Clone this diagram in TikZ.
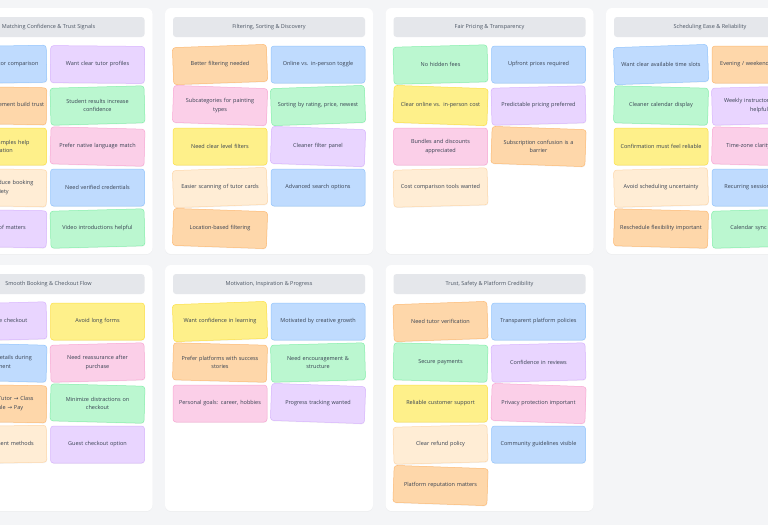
\documentclass[tikz,border=0pt]{standalone}
\usepackage{fontspec}
\setmainfont{Open Sans}
\newfontfamily\arrowfont{DejaVu Sans}
\usetikzlibrary{shadows}
\definecolor{pagebg}{HTML}{F4F5F7}\definecolor{headF}{HTML}{E5E7EB}\definecolor{headT}{HTML}{4B5563}\definecolor{noteT}{HTML}{374151}
\definecolor{orF}{HTML}{FED7AA}\definecolor{orD}{HTML}{FDBA74}
\definecolor{blF}{HTML}{BFDBFE}\definecolor{blD}{HTML}{93C5FD}
\definecolor{pkF}{HTML}{FBCFE8}\definecolor{pkD}{HTML}{F9A8D4}
\definecolor{grF}{HTML}{BBF7D0}\definecolor{grD}{HTML}{86EFAC}
\definecolor{yeF}{HTML}{FEF08A}\definecolor{yeD}{HTML}{FDE047}
\definecolor{puF}{HTML}{E9D5FF}\definecolor{puD}{HTML}{D8B4FE}
\definecolor{crF}{HTML}{FFEDD5}\definecolor{crD}{HTML}{FED7AA}

\begin{document}
\begin{tikzpicture}[x=1pt,y=-1pt,font=\fontsize{5.5}{8.5}\selectfont,
card/.style={fill=white,rounded corners=6pt,drop shadow={opacity=.06,shadow xshift=0pt,shadow yshift=-.8pt}},
head/.style={fill=headF,rounded corners=3pt,text=headT,minimum width=192pt,minimum height=20pt,inner sep=0pt},
note/.style={draw=#1D,fill=#1F,line width=.5pt,rounded corners=3pt,minimum width=94pt,minimum height=37pt,inner sep=0pt,drop shadow={opacity=.1,shadow xshift=.3pt,shadow yshift=-.8pt}},
txt/.style={text width=90pt,align=center,text=noteT,inner sep=0pt}]
\useasboundingbox (0,0) rectangle (768,525);
\clip (0,0) rectangle (768,525);
\fill[pagebg] (0,0) rectangle (768,525);
\foreach \x/\y in {-55.5/8,165/8,385.5/8,606/8,-55.5/265,165/265,385.5/265}\fill[card] (\x,\y) rectangle +(208,246);
% matching
\begin{scope}[shift={(-55.5,8)}]
\node[head] (ha) at (104,19){Matching Confidence \& Trust Signals};
\foreach \c/\r/\k/\a/\t in {0/0/bl/1/{Side-by-side tutor comparison},1/0/pu/-.5/{Want clear tutor profiles},
0/1/or/-1/{Peer acknowledgement build trust},1/1/gr/1.5/{Student results increase\\confidence},
0/2/ye/0/{Artwork examples help\\evaluation},1/2/pk/-1.5/{Prefer native language match},
0/3/cr/-1/{Free trials reduce booking\\anxiety},1/3/bl/0/{Need verified credentials},
0/4/pu/-1/{Social proof matters},1/4/gr/1.5/{Video introductions helpful}}
{\node[note=\k,rotate=\a] (a\c\r) at (55+98*\c,56.5+41*\r){};\node[txt] (ta\c\r) at (a\c\r){\t};}
\end{scope}
% filtering
\begin{scope}[shift={(165,8)}]
\node[head] (hb) at (104,19){Filtering, Sorting \& Discovery};
\foreach \c/\r/\k/\a/\t in {0/0/or/2/{Better filtering needed},1/0/bl/0/{Online vs. in-person toggle},
0/1/pk/-2/{Subcategories for painting\\types},1/1/gr/2/{Sorting by rating, price, newest},
0/2/ye/0/{Need clear level filters},1/2/pu/-2/{Cleaner filter panel},
0/3/cr/2/{Easier scanning of tutor cards},1/3/bl/0/{Advanced search options},
0/4/or/-2/{Location-based filtering}}
{\node[note=\k,rotate=\a] (b\c\r) at (55+98*\c,56.5+41*\r){};\node[txt] (tb\c\r) at (b\c\r){\t};}
\end{scope}
% pricing
\begin{scope}[shift={(385.5,8)}]
\node[head] (hc) at (104,19){Fair Pricing \& Transparency};
\foreach \c/\r/\k/\a/\t in {0/0/gr/1.5/{No hidden fees},1/0/bl/0/{Upfront prices required},
0/1/ye/-2/{Clear online vs. in-person cost},1/1/pu/1.5/{Predictable pricing preferred},
0/2/pk/0/{Bundles and discounts\\appreciated},1/2/or/-2/{Subscription confusion is a\\barrier},
0/3/cr/1.5/{Cost comparison tools wanted}}
{\node[note=\k,rotate=\a] (c\c\r) at (55+98*\c,56.5+41*\r){};\node[txt] (tc\c\r) at (c\c\r){\t};}
\end{scope}
% scheduling
\begin{scope}[shift={(606,8)}]
\node[head] (hd) at (104,19){Scheduling Ease \& Reliability};
\foreach \c/\r/\k/\a/\t in {0/0/bl/2/{Want clear available time slots},1/0/or/0/{Evening / weekend availability},
0/1/gr/-1.5/{Cleaner calendar display},1/1/pu/1.5/{Weekly instructor schedule\\helpful},
0/2/ye/0/{Confirmation must feel reliable},1/2/pk/-1.5/{Time-zone clarity needed},
0/3/cr/1.5/{Avoid scheduling uncertainty},1/3/bl/0/{Recurring sessions wanted},
0/4/or/-1.5/{Reschedule flexibility important},1/4/gr/1.5/{Calendar sync wanted}}
{\node[note=\k,rotate=\a] (d\c\r) at (55+98*\c,56.5+41*\r){};\node[txt] (td\c\r) at (d\c\r){\t};}
\end{scope}
% booking
\begin{scope}[shift={(-55.5,265)}]
\node[head] (he) at (104,19){Smooth Booking \& Checkout Flow};
\foreach \c/\r/\k/\a/\t in {0/0/pu/1.5/{Fast, simple checkout},1/0/ye/0/{Avoid long forms},
0/1/bl/-1.5/{See lesson details during\\payment},1/1/pk/1.5/{Need reassurance after\\purchase},
0/2/or/-1/{Clear steps: Tutor {\arrowfont→} Class\\{\arrowfont→} Schedule {\arrowfont→} Pay},1/2/gr/-1.5/{Minimize distractions on\\checkout},
0/3/cr/1/{Flexible payment methods},1/3/pu/0/{Guest checkout option}}
{\node[note=\k,rotate=\a] (e\c\r) at (55+98*\c,56.5+41*\r){};\node[txt] (te\c\r) at (e\c\r){\t};}
\end{scope}
% motivation
\begin{scope}[shift={(165,265)}]
\node[head] (hf) at (104,19){Motivation, Inspiration \& Progress};
\foreach \c/\r/\k/\a/\t in {0/0/ye/2/{Want confidence in learning},1/0/bl/0/{Motivated by creative growth},
0/1/or/-1.5/{Prefer platforms with success\\stories},1/1/gr/1.5/{Need encouragement \&\\structure},
0/2/pk/0/{Personal goals: career, hobbies},1/2/pu/-2/{Progress tracking wanted}}
{\node[note=\k,rotate=\a] (f\c\r) at (55+98*\c,56.5+41*\r){};\node[txt] (tf\c\r) at (f\c\r){\t};}
\end{scope}
% trust
\begin{scope}[shift={(385.5,265)}]
\node[head] (hg) at (104,19){Trust, Safety \& Platform Credibility};
\foreach \c/\r/\k/\a/\t in {0/0/or/2/{Need tutor verification},1/0/bl/0/{Transparent platform policies},
0/1/gr/-1.5/{Secure payments},1/1/pu/1.5/{Confidence in reviews},
0/2/ye/0/{Reliable customer support},1/2/pk/-2/{Privacy protection important},
0/3/cr/1.5/{Clear refund policy},1/3/bl/0/{Community guidelines visible},
0/4/or/-2/{Platform reputation matters}}
{\node[note=\k,rotate=\a] (g\c\r) at (55+98*\c,56.5+41*\r){};\node[txt] (tg\c\r) at (g\c\r){\t};}
\end{scope}
\end{tikzpicture}
\end{document}
